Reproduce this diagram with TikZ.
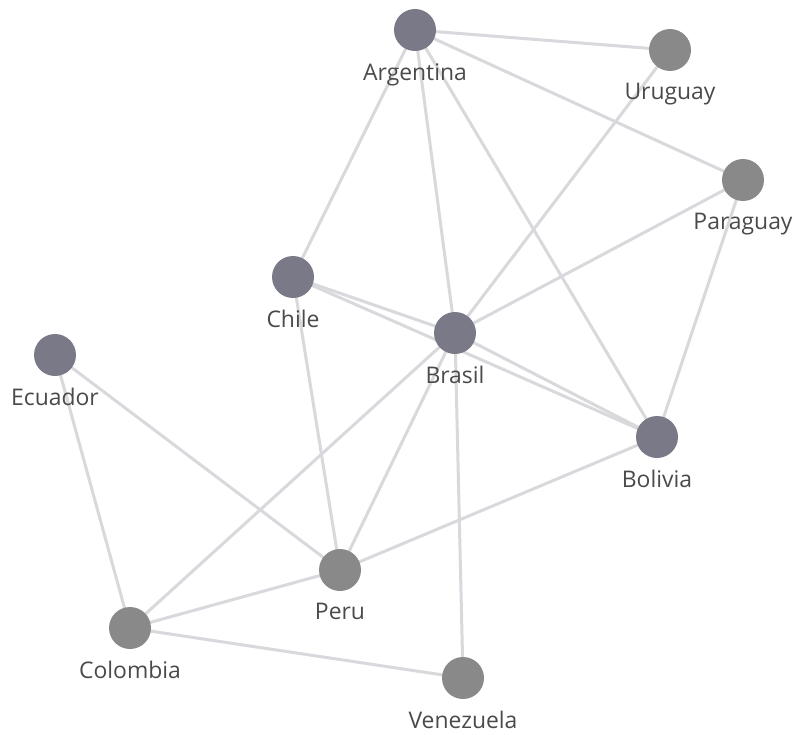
\documentclass[tikz,border=0pt]{standalone}
\usepackage{fontspec}
\setmainfont{Open Sans}
\usetikzlibrary{positioning,backgrounds}
\definecolor{edgegray}{HTML}{D8D8DD}
\definecolor{nodeblue}{HTML}{7A7987}
\definecolor{nodegray}{HTML}{898989}
\definecolor{textgray}{HTML}{4A4A4A}
\tikzset{
  country/.style={circle, minimum size=42bp, inner sep=0pt, fill=#1},
  country/.default=nodegray,
  link/.style={draw=edgegray, line width=3bp},
  lbl/.style={text=textgray, font=\fontsize{23}{26}\selectfont, inner sep=1pt,
              yshift=-11bp}
}

\begin{document}
\begin{tikzpicture}[x=1bp, y=-1bp]
    \useasboundingbox (0,0) rectangle (795,735);
    \node[country=nodeblue, label={[lbl]below:Argentina}] (arg) at (415,30) {};
    \node[country, label={[lbl]below:Uruguay}] (uru) at (670,50) {};
    \node[country, label={[lbl]below:Paraguay}] (par) at (743,180) {};
    \node[country=nodeblue, label={[lbl]below:Chile}] (chi) at (293,277) {};
    \node[country=nodeblue, label={[lbl]below:Brasil}] (bra) at (455,333) {};
    \node[country=nodeblue, label={[lbl]below:Ecuador}] (ecu) at (55,355) {};
    \node[country=nodeblue, label={[lbl]below:Bolivia}] (bol) at (657,437) {};
    \node[country, label={[lbl]below:Peru}] (per) at (340,570) {};
    \node[country, label={[lbl]below:Colombia}] (col) at (130,628) {};
    \node[country, label={[lbl]below:Venezuela}] (ven) at (463,678) {};

    % links go behind circles and names
    \begin{scope}[on background layer]
    \foreach \a/\b in {arg/uru, arg/par, arg/chi, arg/bra, arg/bol,
                       uru/bra, par/bra, par/bol, chi/bra, chi/bol, chi/per,
                       bra/bol, bra/per, bra/col, bra/ven, ecu/per, ecu/col,
                       per/bol, per/col, col/ven}
        \draw[link] (\a.center) -- (\b.center);
    \end{scope}
\end{tikzpicture}
\end{document}
